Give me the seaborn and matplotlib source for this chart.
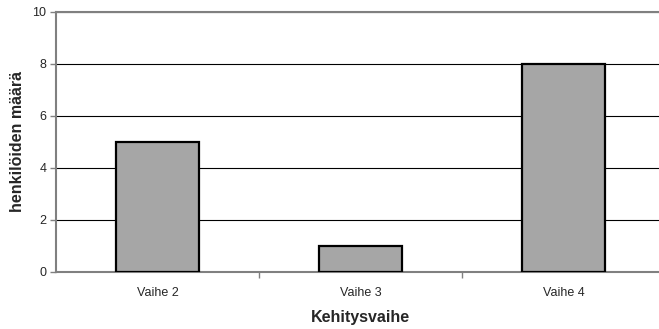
import matplotlib
matplotlib.use("Agg")
import matplotlib.pyplot as plt
import seaborn as sns
import pandas as pd

categories = ["Vaihe 2", "Vaihe 3", "Vaihe 4"]
counts = [5, 1, 8]
y_ticks = [0, 2, 4, 6, 8, 10]

df = pd.DataFrame({"vaihe": categories, "maara": counts})

sns.set_style("white")
plt.rcParams["font.family"] = ["Liberation Sans", "DejaVu Sans"]

fig = plt.figure(figsize=(6.59, 3.29), dpi=100)
# axes spans past the right edge of the figure
ax = fig.add_axes([56 / 659, (329 - 272) / 329, 609 / 659, 260 / 329])

sns.barplot(data=df, x="vaihe", y="maara", ax=ax, color="#a6a6a6",
            saturation=1, width=0.41, edgecolor="black", linewidth=1.6,
            zorder=3)

ax.set_ylim(0, 10)
ax.set_xlim(-0.5, 2.5)
ax.set_yticks(y_ticks)
ax.set_yticklabels([str(t) for t in y_ticks])

ax.yaxis.grid(True, color="black", linewidth=0.8)
ax.set_axisbelow(True)

for side in ["left", "bottom", "top"]:
    ax.spines[side].set_visible(True)
    ax.spines[side].set_color("#808080")
    ax.spines[side].set_linewidth(1.5)
ax.spines["right"].set_visible(False)

ax.tick_params(axis="y", which="major", direction="out", length=4,
               color="#808080", width=1, labelsize=9, pad=3, left=True)
ax.tick_params(axis="x", which="major", length=0, labelsize=9, pad=11)
ax.set_xticks([0.5, 1.5], minor=True)
ax.tick_params(axis="x", which="minor", direction="out", length=4,
               color="#808080", width=1, bottom=True)

ax.set_xlabel("Kehitysvaihe", fontsize=11.5, fontweight="bold", labelpad=8)
ax.set_ylabel("henkilöiden määrä", fontsize=11.5, fontweight="bold", labelpad=5.5)

fig.savefig("out.png", dpi=100)
